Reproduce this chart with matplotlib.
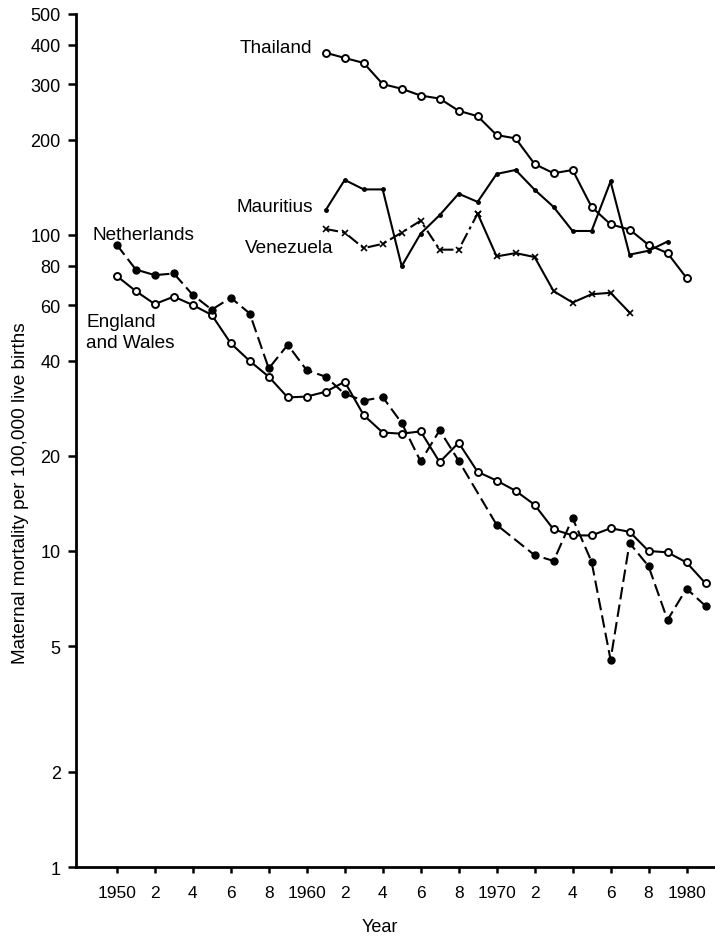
import matplotlib
matplotlib.use("Agg")
import matplotlib.pyplot as plt
import numpy as np

plt.rcParams['font.family'] = ['Liberation Sans', 'DejaVu Sans']

# maternal mortality per 100,000 live births
years_ew = list(range(1950, 1982))
england_wales = [74.1, 66.4, 60.4, 63.8, 60.0, 55.8, 45.4, 39.9, 35.6, 30.6,
                 30.8, 31.9, 34.3, 26.9, 23.7, 23.5, 23.9, 19.1, 22.0, 17.8,
                 16.7, 15.5, 14.0, 11.7, 11.2, 11.2, 11.8, 11.5, 10.0, 9.9,
                 9.2, 7.9]

years_nl = list(range(1950, 1969)) + [1970] + list(range(1972, 1982))
netherlands = [93.0, 77.7, 74.6, 75.5, 64.6, 58.0, 63.3, 56.4, 37.8, 44.9,
               37.3, 35.6, 31.4, 29.9, 30.7, 25.4, 19.2, 24.1, 19.3,
               12.1,
               9.7, 9.3, 12.7, 9.25, 4.53, 10.6, 8.95, 6.05, 7.6, 6.7]

years_th = list(range(1961, 1981))
thailand = [377, 363, 350, 300, 290, 276, 270, 247, 237.5, 207,
            202, 167.6, 156.7, 160.5, 122.6, 108, 104, 93, 87.6, 73.1]

years_mu = list(range(1961, 1980))
mauritius = [119.8, 149.3, 139.3, 139.3, 79.6, 101, 115.5, 135, 127.2, 155.9,
             160.5, 139, 122.6, 102.9, 102.9, 147.6, 86.6, 89.1, 95.3]

years_ve = list(range(1961, 1978))
venezuela = [104.4, 101.7, 90.8, 93.7, 101.7, 110.9, 89.8, 89.8, 116.8, 85.5,
             87.6, 85.1, 66.4, 61.1, 64.9, 65.6, 56.8]

xticks = list(range(1950, 1981, 2))
xticklabels = [str(y) if y % 10 == 0 else str(y % 10) for y in xticks]
yticks = [1, 2, 5, 10, 20, 40, 60, 80, 100, 200, 300, 400, 500]

fig = plt.figure(figsize=(7.15, 9.37), dpi=100)
ax = fig.add_axes([0.1063, 0.0736, 0.8937, 0.9104])

lw = 1.5
ax.plot(years_ew, england_wales, '-', color='black', lw=lw, marker='o', ms=5,
        mfc='white', mec='black', mew=1.4, clip_on=False, zorder=3)
ax.plot(years_nl, netherlands, color='black', lw=lw, ls=(0, (6, 2.5)), marker='o',
        ms=5, mfc='black', mec='black', clip_on=False, zorder=3)
ax.plot(years_th, thailand, '-', color='black', lw=lw, marker='o', ms=5,
        mfc='white', mec='black', mew=1.4, clip_on=False, zorder=3)
ax.plot(years_mu, mauritius, '-', color='black', lw=lw, marker='o', ms=2.5,
        mfc='black', mec='black', clip_on=False, zorder=3)
# Venezuela: dash-dot early, solid later
ax.plot(years_ve[:9], venezuela[:9], color='black', lw=lw, ls=(0, (6, 2, 1.5, 2)),
        marker='x', ms=4, mew=1.2, zorder=3)
ax.plot(years_ve[8:], venezuela[8:], '-', color='black', lw=lw,
        marker='x', ms=4, mew=1.2, zorder=3)

ax.set_yscale('log')
ax.set_ylim(1, 500)
ax.set_xlim(1947.85, 1981.5)
ax.set_yticks(yticks)
ax.set_yticklabels([str(v) for v in yticks])
ax.minorticks_off()
ax.set_xticks(xticks)
ax.set_xticklabels(xticklabels)

for side in ['top', 'right']:
    ax.spines[side].set_visible(False)
for side in ['left', 'bottom']:
    ax.spines[side].set_linewidth(2)

ax.tick_params(axis='y', direction='out', length=6, width=1.8, pad=5, labelsize=13)
ax.tick_params(axis='x', direction='out', length=4, width=1.8, pad=9, labelsize=12.5)

fs = 13.7
ax.text(1956.48, 393, 'Thailand', fontsize=fs, ha='left', va='center')
ax.text(1956.3, 123, 'Mauritius', fontsize=fs, ha='left', va='center')
ax.text(1956.75, 91, 'Venezuela', fontsize=fs, ha='left', va='center')
ax.text(1948.74, 100.6, 'Netherlands', fontsize=fs, ha='left', va='center')
ax.text(1948.38, 49.3, 'England\nand Wales', fontsize=fs, ha='left', va='center',
        linespacing=1.3)

ax.set_ylabel('Maternal mortality per 100,000 live births', fontsize=13.7)
ax.yaxis.set_label_coords(-0.074, 0.44)
fig.text(380 / 715, 1 - 928 / 937, 'Year', fontsize=13, ha='center', va='center')

fig.savefig('out.png', dpi=100, facecolor='white')
